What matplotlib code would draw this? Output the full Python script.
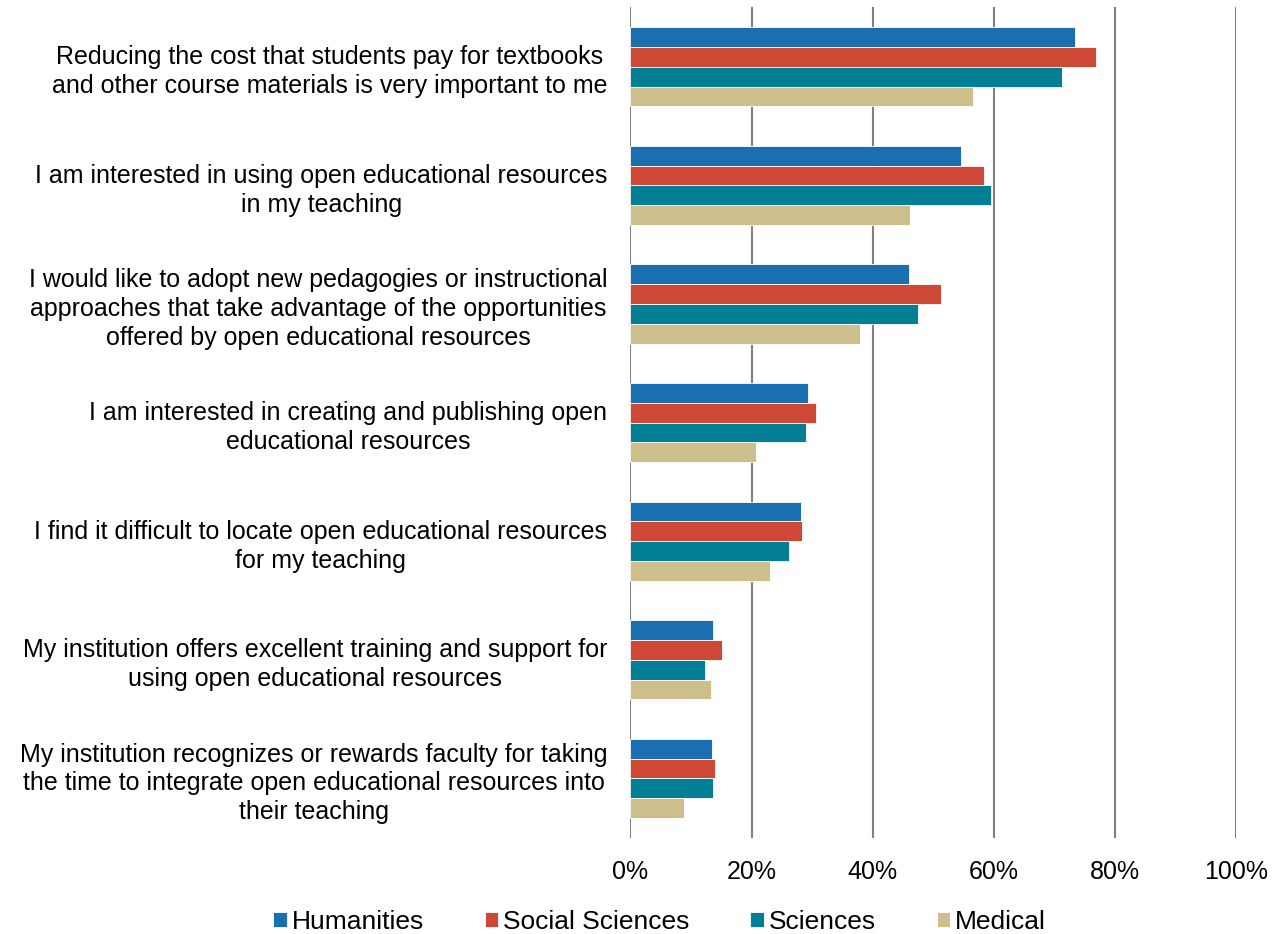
import numpy as np
import matplotlib.pyplot as plt

plt.rcParams['font.family'] = ['Liberation Sans', 'DejaVu Sans']

statements = [
    "Reducing the cost that students pay for textbooks\nand other course materials is very important to me",
    "I am interested in using open educational resources\nin my teaching",
    "I would like to adopt new pedagogies or instructional\napproaches that take advantage of the opportunities\noffered by open educational resources",
    "I am interested in creating and publishing open\neducational resources",
    "I find it difficult to locate open educational resources\nfor my teaching",
    "My institution offers excellent training and support for\nusing open educational resources",
    "My institution recognizes or rewards faculty for taking\nthe time to integrate open educational resources into\ntheir teaching",
]
groups = ["Humanities", "Social Sciences", "Sciences", "Medical"]
humanities = [73.3, 54.5, 46.0, 29.3, 28.1, 13.7, 13.5]
social_sciences = [76.9, 58.4, 51.2, 30.6, 28.4, 15.1, 13.9]
sciences = [71.3, 59.5, 47.4, 28.9, 26.2, 12.3, 13.6]
medical = [56.5, 46.2, 37.9, 20.7, 23.1, 13.3, 8.9]
xticks = [0, 20, 40, 60, 80, 100]

series = [humanities, social_sciences, sciences, medical]
colors = ["#196FB0", "#CE4836", "#027F94", "#CCBF8C"]

fig = plt.figure(figsize=(12.76, 9.34), dpi=100)
ax = fig.add_axes([0.494, 0.103, 0.475, 0.889])

y = np.arange(len(statements))
h = 0.167
for i, (vals, col) in enumerate(zip(series, colors)):
    ax.barh(y - 1.5 * h + i * h, vals, height=h, color=col,
            edgecolor='white', linewidth=0.6, label=groups[i], zorder=3)

ax.set_ylim(len(statements) - 0.5, -0.5)
ax.set_xlim(0, 100)
ax.set_xticks(xticks)
ax.set_xticklabels([f"{t}%" for t in xticks], fontsize=18)
ax.set_yticks(y)
ax.set_yticklabels(statements, fontsize=18)
for lbl in ax.get_yticklabels():
    lbl.set_multialignment('center')
    lbl.set_linespacing(1.25)
ax.tick_params(axis='both', length=0)
ax.tick_params(axis='y', pad=16.5)
ax.tick_params(axis='x', pad=16)

ax.grid(axis='x', color='#808080', linewidth=1.5, zorder=0)
for s in ax.spines.values():
    s.set_visible(False)

fig.legend(loc='lower center', bbox_to_anchor=(0.517, -0.025), ncol=4, frameon=False,
           fontsize=19, handlelength=0.5, handleheight=0.5, handletextpad=0.2,
           columnspacing=2.3)

fig.savefig('out.png', dpi=100)
